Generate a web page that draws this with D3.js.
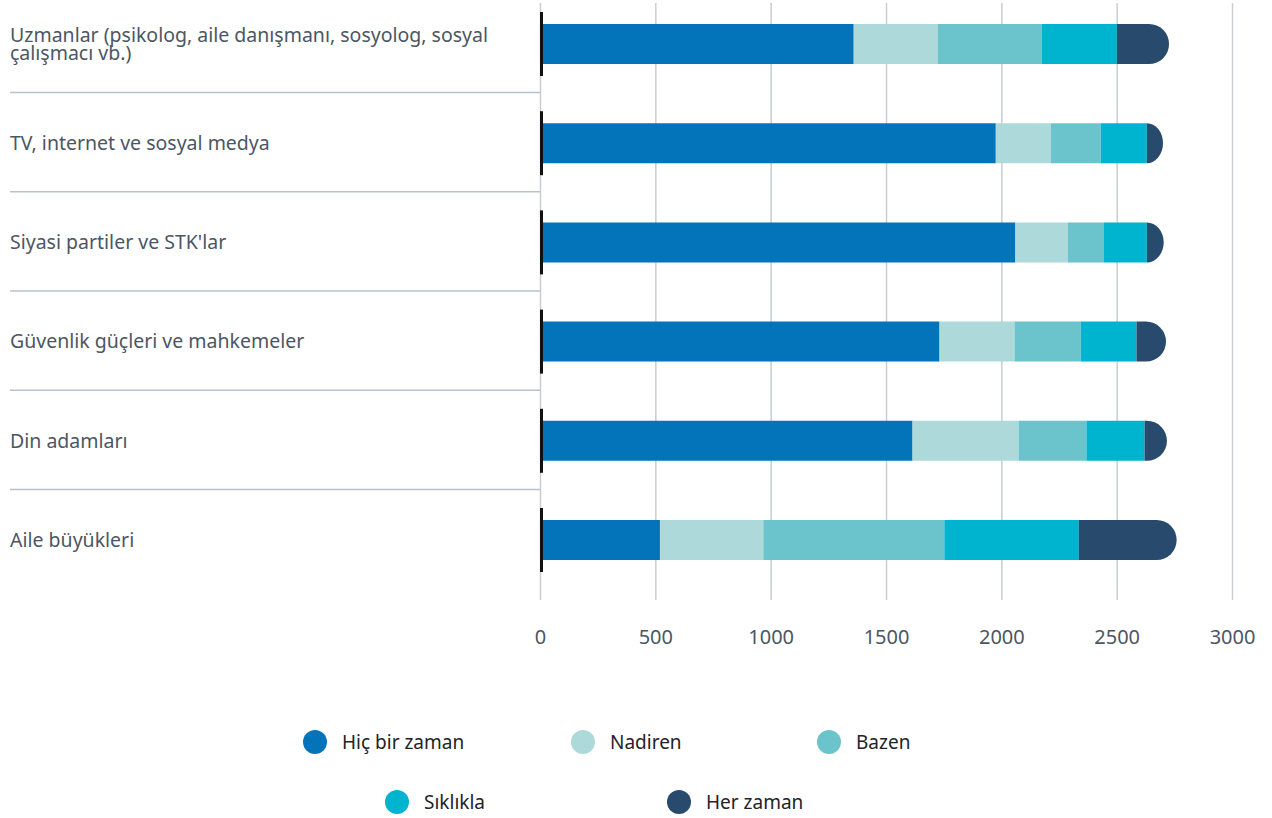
<!DOCTYPE html>
<html>
<head>
<meta charset="utf-8">
<script src="https://cdn.jsdelivr.net/npm/d3@7"></script>
<style>
  body { margin: 0; background: #fff; }
  svg { font-family: "Noto Sans", sans-serif; }
</style>
</head>
<body>
<div id="chart"></div>
<script>
var width = 1272, height = 818;

// categories, top to bottom
var categories = [
  "Uzmanlar (psikolog, aile danışmanı, sosyolog, sosyal çalışmacı vb.)",
  "TV, internet ve sosyal medya",
  "Siyasi partiler ve STK'lar",
  "Güvenlik güçleri ve mahkemeler",
  "Din adamları",
  "Aile büyükleri"
];
var labelLines = [
  ["Uzmanlar (psikolog, aile danışmanı, sosyolog, sosyal", "çalışmacı vb.)"],
  ["TV, internet ve sosyal medya"],
  ["Siyasi partiler ve STK'lar"],
  ["Güvenlik güçleri ve mahkemeler"],
  ["Din adamları"],
  ["Aile büyükleri"]
];
var seriesNames = ["Hiç bir zaman", "Nadiren", "Bazen", "Sıklıkla", "Her zaman"];
var seriesColors = ["#0474ba", "#add9da", "#6bc4cb", "#00b4d0", "#284b6d"];

var hicBirZaman = [1360, 1976, 2061, 1732, 1615, 520];
var nadiren     = [364, 238, 227, 325, 460, 448];
var bazen       = [452, 217, 157, 287, 294, 785];
var siklikla    = [325, 200, 186, 242, 252, 583];
var herZaman    = [226, 70, 73, 128, 97, 424];

var tickValues = [0, 500, 1000, 1500, 2000, 2500, 3000];

var rows = categories.map(function(c, i) {
  return {cat: c, "Hiç bir zaman": hicBirZaman[i], "Nadiren": nadiren[i], "Bazen": bazen[i],
          "Sıklıkla": siklikla[i], "Her zaman": herZaman[i]};
});
var stacked = d3.stack().keys(seriesNames)(rows);

var x = d3.scaleLinear().domain([0, 3000]).range([540, 1232]);
var y = d3.scalePoint().domain(categories).range([44, 540]);
var barH = 40;

var svg = d3.select("#chart").append("svg").attr("width", width).attr("height", height);

// gridlines + tick labels
var axis = svg.append("g").attr("transform", "translate(0,600)")
  .call(d3.axisBottom(x).tickValues(tickValues).tickSize(-597).tickPadding(30).tickFormat(d3.format("d")));
axis.select(".domain").remove();
axis.selectAll(".tick line").attr("stroke", "#c9cdd1").attr("stroke-width", 1.5);
axis.selectAll(".tick text").attr("fill", "#4b5663").style("font-size", "20px").style("font-family", "Noto Sans");

// separators between rows
var step = y.step();
svg.append("g").selectAll("line").data(categories.slice(1)).enter().append("line")
  .attr("x1", 10).attr("x2", 540)
  .attr("y1", function(d) { return y(d) - step / 2 - 1; })
  .attr("y2", function(d) { return y(d) - step / 2 - 1; })
  .attr("stroke", "#b6c3cd").attr("stroke-width", 1.5);

// category labels
var lab = svg.append("g").selectAll("text").data(categories).enter().append("text")
  .attr("x", 10).attr("fill", "#4b5663").style("font-size", "19.5px");
lab.each(function(d, i) {
  var lines = labelLines[i];
  var t = d3.select(this);
  if (lines.length == 1) {
    t.attr("y", y(d)).attr("dy", "0.35em").text(lines[0]);
  } else {
    lines.forEach(function(l, j) {
      t.append("tspan").attr("x", 10).attr("y", y(d) - 2 + j * 18).text(l);
    });
  }
});

// bars
var last = seriesNames.length - 1;
function segPath(d) {
  var x0 = x(d[0]), x1 = x(d[1]), y0 = y(d.data.cat) - barH / 2, y1 = y0 + barH;
  return "M" + x0 + "," + y0 + "H" + x1 + "V" + y1 + "H" + x0 + "Z";
}
// last segment gets a rounded right end
function lastPath(d) {
  var x0 = x(d[0]), x1 = x(d[1]), y0 = y(d.data.cat) - barH / 2, y1 = y0 + barH;
  var rx = Math.min(20, x1 - x0), ry = barH / 2, cy = y0 + ry;
  return "M" + x0 + "," + y0 + "H" + (x1 - rx) +
    "A" + rx + "," + ry + " 0 0 1 " + x1 + "," + cy +
    "A" + rx + "," + ry + " 0 0 1 " + (x1 - rx) + "," + y1 + "H" + x0 + "Z";
}
svg.append("g").selectAll("g").data(stacked).enter().append("g")
  .attr("fill", function(s, i) { return seriesColors[i]; })
  .selectAll("path").data(function(s) { return s.map(function(d) { d.key = s.key; return d; }); })
  .enter().append("path")
  .attr("d", function(d) { return d.key == seriesNames[last] ? lastPath(d) : segPath(d); });

// black baseline markers
svg.append("g").selectAll("line").data(categories).enter().append("line")
  .attr("x1", 541.5).attr("x2", 541.5)
  .attr("y1", function(d) { return y(d) - 32; })
  .attr("y2", function(d) { return y(d) + 32; })
  .attr("stroke", "#111").attr("stroke-width", 3);

// legend
var legendPos = [[315, 742], [583, 742], [829, 742], [397, 802], [679, 802]];
var leg = svg.append("g").selectAll("g").data(seriesNames).enter().append("g")
  .attr("transform", function(d, i) { return "translate(" + legendPos[i][0] + "," + legendPos[i][1] + ")"; });
leg.append("circle").attr("r", 12).attr("fill", function(d, i) { return seriesColors[i]; });
leg.append("text").attr("x", 27).attr("dy", "0.35em").attr("fill", "#1e2328")
  .style("font-size", "19px").text(function(d) { return d; });
</script>
</body>
</html>
